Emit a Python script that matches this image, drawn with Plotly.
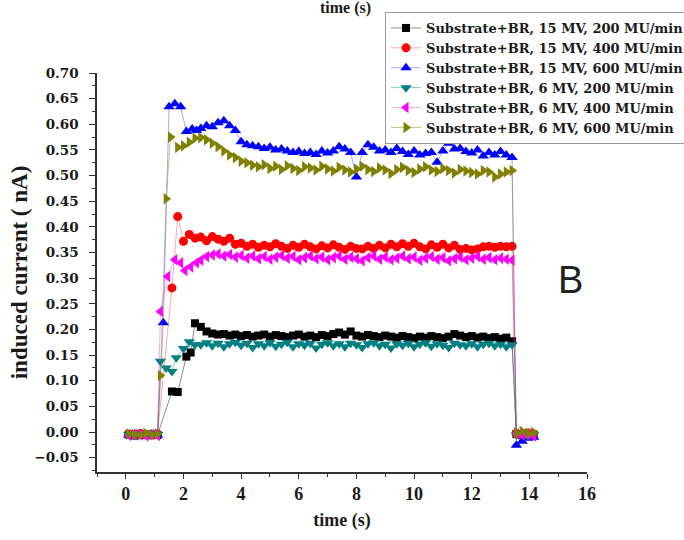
import plotly.graph_objects as go

# ---------------- data ----------------
BASE_T = [0.1, 0.3, 0.5, 0.7, 0.9, 1.1]
PLATEAU_T = [2.6, 2.8, 3.0, 3.2, 3.4, 3.6, 3.8, 4.0, 4.2, 4.4,
             4.6, 4.8, 5.0, 5.2, 5.4, 5.6, 5.8, 6.0, 6.2, 6.4,
             6.6, 6.8, 7.0, 7.2, 7.4, 7.6, 7.8, 8.0, 8.2, 8.4,
             8.6, 8.8, 9.0, 9.2, 9.4, 9.6, 9.8, 10.0, 10.2, 10.4,
             10.6, 10.8, 11.0, 11.2, 11.4, 11.6, 11.8, 12.0, 12.2, 12.4,
             12.6, 12.8, 13.0, 13.2, 13.4]
TAIL_T = [13.55, 13.75, 13.95, 14.15]

labels = ["Substrate+BR, 15 MV, 200 MU/min",
          "Substrate+BR, 15 MV, 400 MU/min",
          "Substrate+BR, 15 MV, 600 MU/min",
          "Substrate+BR, 6 MV, 200 MU/min",
          "Substrate+BR, 6 MV, 400 MU/min",
          "Substrate+BR, 6 MV, 600 MU/min"]

# 15 MV, 200 MU/min
base_15_200 = [-0.005, -0.007, -0.004, -0.006, -0.005, -0.006]
trans_t_15_200 = [1.6, 1.8, 2.1, 2.25, 2.4]
trans_v_15_200 = [0.079, 0.078, 0.147, 0.155, 0.212]
plat_15_200 = [0.205, 0.196, 0.192, 0.190, 0.191, 0.188, 0.190, 0.187, 0.189, 0.186,
               0.188, 0.190, 0.186, 0.189, 0.187, 0.185, 0.188, 0.190, 0.186, 0.188,
               0.185, 0.189, 0.187, 0.191, 0.194, 0.190, 0.196, 0.188, 0.186, 0.189,
               0.187, 0.185, 0.188, 0.186, 0.184, 0.187, 0.185, 0.183, 0.186, 0.184,
               0.187, 0.185, 0.183, 0.186, 0.191, 0.188, 0.185, 0.187, 0.184, 0.186,
               0.183, 0.185, 0.182, 0.184, 0.177]
tail_15_200 = [-0.004, -0.006, -0.003, -0.005]

# 15 MV, 400 MU/min
base_15_400 = [-0.004, -0.006, -0.003, -0.005, -0.006, -0.004]
trans_t_15_400 = [1.6, 1.8, 2.0, 2.2, 2.4]
trans_v_15_400 = [0.281, 0.420, 0.372, 0.385, 0.378]
plat_15_400 = [0.380, 0.373, 0.381, 0.376, 0.372, 0.378, 0.366, 0.368, 0.362, 0.366,
               0.360, 0.364, 0.361, 0.367, 0.362, 0.358, 0.364, 0.360, 0.366, 0.361,
               0.357, 0.363, 0.359, 0.365, 0.360, 0.356, 0.362, 0.358, 0.357, 0.362,
               0.358, 0.364, 0.359, 0.366, 0.361, 0.367, 0.362, 0.368, 0.361, 0.357,
               0.365, 0.360, 0.366, 0.359, 0.364, 0.356, 0.358, 0.355, 0.357, 0.361,
               0.362, 0.360, 0.362, 0.361, 0.362]
tail_15_400 = [-0.003, -0.005, -0.002, -0.004]

# 15 MV, 600 MU/min
base_15_600 = [-0.006, -0.004, -0.007, -0.005, -0.004, -0.006]
trans_t_15_600 = [1.3, 1.5, 1.7, 1.9, 2.1, 2.3, 2.45]
trans_v_15_600 = [0.213, 0.634, 0.640, 0.634, 0.586, 0.591, 0.588]
plat_15_600 = [0.592, 0.597, 0.595, 0.603, 0.607, 0.597, 0.588, 0.566, 0.560, 0.558,
               0.556, 0.553, 0.555, 0.550, 0.552, 0.548, 0.545, 0.547, 0.543, 0.545,
               0.541, 0.548, 0.544, 0.548, 0.556, 0.552, 0.545, 0.497, 0.545, 0.560,
               0.555, 0.548, 0.550, 0.545, 0.553, 0.547, 0.541, 0.548, 0.540, 0.543,
               0.545, 0.526, 0.548, 0.563, 0.552, 0.553, 0.547, 0.544, 0.550, 0.538,
               0.545, 0.540, 0.547, 0.540, 0.535]
tail_15_600 = [-0.026, -0.018, -0.012, -0.010]

# 6 MV, 200 MU/min
base_6_200 = [-0.005, -0.007, -0.005, -0.004, -0.006, -0.005]
trans_t_6_200 = [1.2, 1.4, 1.6, 1.75, 2.0, 2.2, 2.4]
trans_v_6_200 = [0.138, 0.125, 0.118, 0.145, 0.163, 0.176, 0.170]
plat_6_200 = [0.170, 0.174, 0.168, 0.173, 0.166, 0.172, 0.175, 0.169, 0.173, 0.165,
              0.172, 0.168, 0.174, 0.167, 0.171, 0.175, 0.166, 0.172, 0.169, 0.173,
              0.164, 0.171, 0.174, 0.168, 0.172, 0.166, 0.173, 0.170, 0.165, 0.172,
              0.174, 0.168, 0.171, 0.164, 0.172, 0.169, 0.173, 0.166, 0.171, 0.174,
              0.167, 0.172, 0.169, 0.165, 0.173, 0.170, 0.168, 0.172, 0.166, 0.171,
              0.173, 0.168, 0.171, 0.166, 0.170]
tail_6_200 = [-0.006, -0.004, -0.007, -0.005]

# 6 MV, 400 MU/min
base_6_400 = [-0.007, -0.005, -0.006, -0.008, -0.005, -0.007]
trans_t_6_400 = [1.2, 1.45, 1.7, 1.9, 2.05, 2.25, 2.45]
trans_v_6_400 = [0.235, 0.303, 0.336, 0.330, 0.315, 0.322, 0.330]
plat_6_400 = [0.335, 0.342, 0.345, 0.347, 0.343, 0.346, 0.341, 0.344, 0.339, 0.343,
              0.338, 0.342, 0.337, 0.341, 0.344, 0.339, 0.342, 0.336, 0.340, 0.343,
              0.338, 0.341, 0.336, 0.340, 0.343, 0.337, 0.341, 0.338, 0.334, 0.340,
              0.343, 0.337, 0.341, 0.336, 0.339, 0.343, 0.338, 0.341, 0.335, 0.339,
              0.342, 0.337, 0.340, 0.334, 0.338, 0.341, 0.336, 0.339, 0.342, 0.337,
              0.340, 0.336, 0.339, 0.337, 0.335]
tail_6_400 = [-0.004, -0.006, -0.005, -0.008]

# 6 MV, 600 MU/min
base_6_600 = [-0.004, -0.005, -0.006, -0.003, -0.005, -0.004]
trans_t_6_600 = [1.2, 1.4, 1.55, 1.8, 2.0, 2.2, 2.4]
trans_v_6_600 = [0.110, 0.455, 0.575, 0.555, 0.558, 0.565, 0.573]
plat_6_600 = [0.574, 0.570, 0.563, 0.556, 0.548, 0.540, 0.535, 0.528, 0.525, 0.520,
              0.517, 0.521, 0.514, 0.518, 0.512, 0.519, 0.514, 0.510, 0.517, 0.515,
              0.511, 0.518, 0.513, 0.509, 0.516, 0.511, 0.507, 0.513, 0.518, 0.512,
              0.508, 0.515, 0.511, 0.504, 0.512, 0.516, 0.510, 0.506, 0.513, 0.517,
              0.511, 0.508, 0.514, 0.510, 0.505, 0.512, 0.509, 0.506, 0.503, 0.510,
              0.507, 0.497, 0.503, 0.507, 0.510]
tail_6_600 = [-0.002, 0.001, -0.003, -0.001]

series = [
    (base_15_200, trans_t_15_200, trans_v_15_200, plat_15_200, tail_15_200),
    (base_15_400, trans_t_15_400, trans_v_15_400, plat_15_400, tail_15_400),
    (base_15_600, trans_t_15_600, trans_v_15_600, plat_15_600, tail_15_600),
    (base_6_200, trans_t_6_200, trans_v_6_200, plat_6_200, tail_6_200),
    (base_6_400, trans_t_6_400, trans_v_6_400, plat_6_400, tail_6_400),
    (base_6_600, trans_t_6_600, trans_v_6_600, plat_6_600, tail_6_600),
]

# ---------------- style ----------------
colors = ["#000000", "#ff0000", "#0000ff", "#008080", "#ff00ff", "#808000"]
line_colors = ["rgba(0,0,0,0.45)", "rgba(255,0,0,0.35)", "rgba(0,0,255,0.35)",
               "rgba(0,128,128,0.45)", "rgba(255,0,255,0.35)", "rgba(128,128,0,0.45)"]
symbols = ["square", "circle", "triangle-up", "triangle-down", "triangle-left", "triangle-right"]
sizes = [8, 9, 10, 10, 10, 10]
SERIF = "Liberation Serif"
WIDE = "DejaVu Serif"

fig = go.Figure()
for i, (b, tt, tv, p, tl) in enumerate(series):
    assert len(b) == len(BASE_T) and len(tt) == len(tv)
    assert len(p) == len(PLATEAU_T) and len(tl) == len(TAIL_T)
    x = BASE_T + tt + PLATEAU_T + TAIL_T
    y = b + tv + p + tl
    fig.add_trace(go.Scatter(
        x=x, y=y, mode="lines+markers", name=labels[i],
        line=dict(color=line_colors[i], width=1),
        marker=dict(symbol=symbols[i], size=sizes[i], color=colors[i], line=dict(width=0)),
    ))

txt = "#1a1a1a"

fig.update_layout(
    width=684, height=540,
    margin=dict(l=97, r=97, t=73, b=68, autoexpand=False),
    paper_bgcolor="white", plot_bgcolor="white",
    font=dict(family=SERIF, color=txt),
    showlegend=True,
    legend=dict(
        x=(385 - 97) / 490, y=1 + (73 - 12) / 399, xanchor="left", yanchor="top",
        bgcolor="white", bordercolor="#9a9a9a", borderwidth=1,
        font=dict(family=WIDE, size=13, color=txt, weight="bold"),
        tracegroupgap=0, itemwidth=30,
    ),
    xaxis=dict(
        range=[-1, 16], tick0=0, dtick=2,
        showline=True, linecolor="#333", linewidth=1.5,
        ticks="outside", ticklen=5, tickwidth=1.2, tickcolor="#333",
        minor=dict(dtick=1, tick0=0, ticks="outside", ticklen=3, tickcolor="#333"),
        showgrid=False, zeroline=False,
        tickfont=dict(family=SERIF, size=18, color=txt, weight="bold"),
        title=dict(text="time (s)", font=dict(family=SERIF, size=18, color=txt, weight="bold"),
                   standoff=10),
    ),
    yaxis=dict(
        range=[-0.078, 0.70], tick0=0, dtick=0.05, tickformat=".2f",
        showline=True, linecolor="#333", linewidth=1.5,
        ticks="outside", ticklen=6, tickwidth=1.2, tickcolor="#333",
        ticklabelstandoff=8,
        minor=dict(dtick=0.025, ticks="outside", ticklen=3, tickcolor="#333"),
        showgrid=False, zeroline=False,
        tickfont=dict(family=WIDE, size=13.5, color=txt, weight="bold"),
        title=dict(text="induced current ( nA)",
                   font=dict(family=SERIF, size=23, color=txt, weight="bold"), standoff=0),
    ),
)

fig.add_annotation(text="B", xref="paper", yref="paper",
                   x=(570 - 97) / 490, y=1 - (280 - 73) / 399,
                   xanchor="center", yanchor="middle",
                   showarrow=False,
                   font=dict(family="Liberation Sans", size=38, color="#222"))

fig.add_annotation(text="time (s)", xref="paper", yref="paper",
                   x=(345 - 97) / 490, y=1 + (73 - 8) / 399,
                   xanchor="center", yanchor="middle",
                   showarrow=False,
                   font=dict(family=SERIF, size=16, color=txt, weight="bold"))

fig.write_html("out.html")
